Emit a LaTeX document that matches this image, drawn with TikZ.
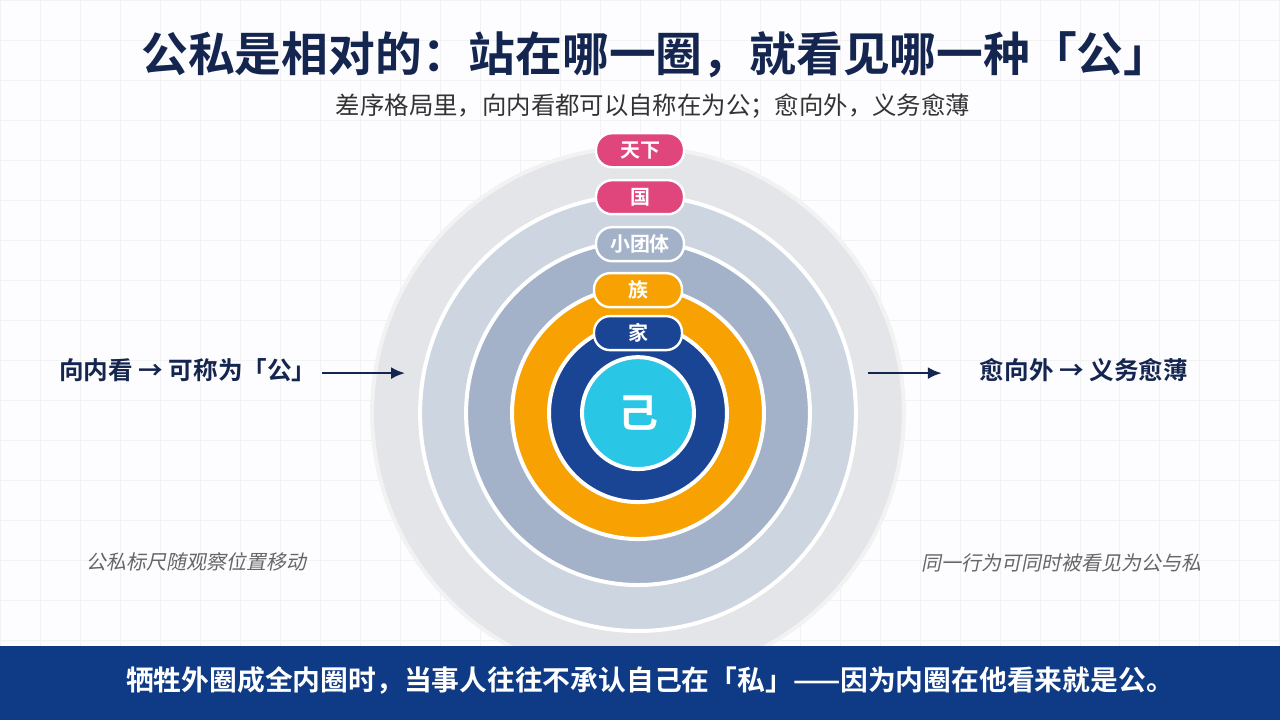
\documentclass[tikz,border=0pt]{standalone}
\usepackage{fontspec}
\setmainfont{Noto Sans CJK SC}
\newfontfamily\cjkb{Noto Sans CJK SC Bold}
\newfontfamily\cjki[FakeSlant=0.2]{Noto Sans CJK SC}
\usetikzlibrary{arrows.meta}
\definecolor{navy}{HTML}{14254F}
\definecolor{ring1}{HTML}{E3E5E9}
\definecolor{ring2}{HTML}{CDD5E1}
\definecolor{ring3}{HTML}{A3B2C9}
\definecolor{orng}{HTML}{F8A102}
\definecolor{dblue}{HTML}{1A4594}
\definecolor{cyn}{HTML}{29C6E6}
\definecolor{pink}{HTML}{E0457B}
\definecolor{band}{HTML}{0F3A85}
\begin{document}
\begin{tikzpicture}[x=0.5pt,y=-0.5pt,
  ring/.style={draw=white,line width=2pt},
  pill/.style={draw=white,line width=1.2pt,rounded corners=8pt,minimum width=44pt,minimum height=17pt,text=white,font=\cjkb\fontsize{10}{11}\selectfont,inner sep=2pt},
  side/.style={text=navy,font=\cjkb\fontsize{12.3}{14}\selectfont},
  note/.style={text=gray!80!black,font=\cjki\fontsize{10}{12}\selectfont},
  arr/.style={-{Latex[length=7pt,width=6pt]},line width=1.3pt,navy}]
\fill[white!96!blue!20!white] (0,0) rectangle (1280,720);
\foreach \x in {0,40,...,1280} \draw[black!5,line width=0.3pt] (\x,0)--(\x,646);
\foreach \y in {0,40,...,640} \draw[black!5,line width=0.3pt] (0,\y)--(1280,\y);
\useasboundingbox (0,0) rectangle (1280,720);
\node[text=navy,font=\cjkb\fontsize{23.4}{26}\selectfont] (title) at (656,55) {公私是相对的：站在哪一圈，就看见哪一种「公」};
\node[text=black!80,font=\fontsize{12.2}{14}\selectfont] (sub) at (653,106) {差序格局里，向内看都可以自称在为公；愈向外，义务愈薄};
\coordinate (c) at (638,413);
\draw[ring,fill=ring1,draw=white!90!gray] (c) circle[radius=133pt];
\draw[ring,fill=ring2] (c) circle[radius=109pt];
\draw[ring,fill=ring3] (c) circle[radius=86pt];
\draw[ring,fill=orng] (c) circle[radius=63pt];
\draw[ring,fill=dblue] (c) circle[radius=44.5pt];
\draw[ring,fill=cyn] (c) circle[radius=28pt];
\node[text=white,font=\cjkb\fontsize{20}{22}\selectfont] (ji) at (638,413) {己};
\node[pill,fill=pink] (tx) at (640,150) {天下};
\node[pill,fill=pink] (gu) at (640,197) {国};
\node[pill,fill=ring3] (xt) at (640,244) {小团体};
\node[pill,fill=orng] (zu) at (638,290) {族};
\node[pill,fill=dblue] (jia) at (638,333) {家};
\node[side,anchor=west] (lt) at (52,370) {向内看 → 可称为「公」};
\node[side,anchor=west] (rt) at (973,370) {愈向外 → 义务愈薄};
\coordinate (la0) at (322,373); \coordinate (la) at (405,373);
\coordinate (rb0) at (868,373); \coordinate (rb) at (942,373);
\draw[arr] (la0) -- (la);
\draw[arr] (rb0) -- (rb);
\node[note] (n1) at (196,562) {公私标尺随观察位置移动};
\node[note] (n2) at (1062,563) {同一行为可同时被看见为公与私};
\fill[band] (0,646) rectangle (1280,720);
\node[text=white,font=\cjkb\fontsize{13.9}{16}\selectfont] (bt) at (650,681) {牺牲外圈成全内圈时，当事人往往不承认自己在「私」——因为内圈在他看来就是公。};
\end{tikzpicture}
\end{document}
